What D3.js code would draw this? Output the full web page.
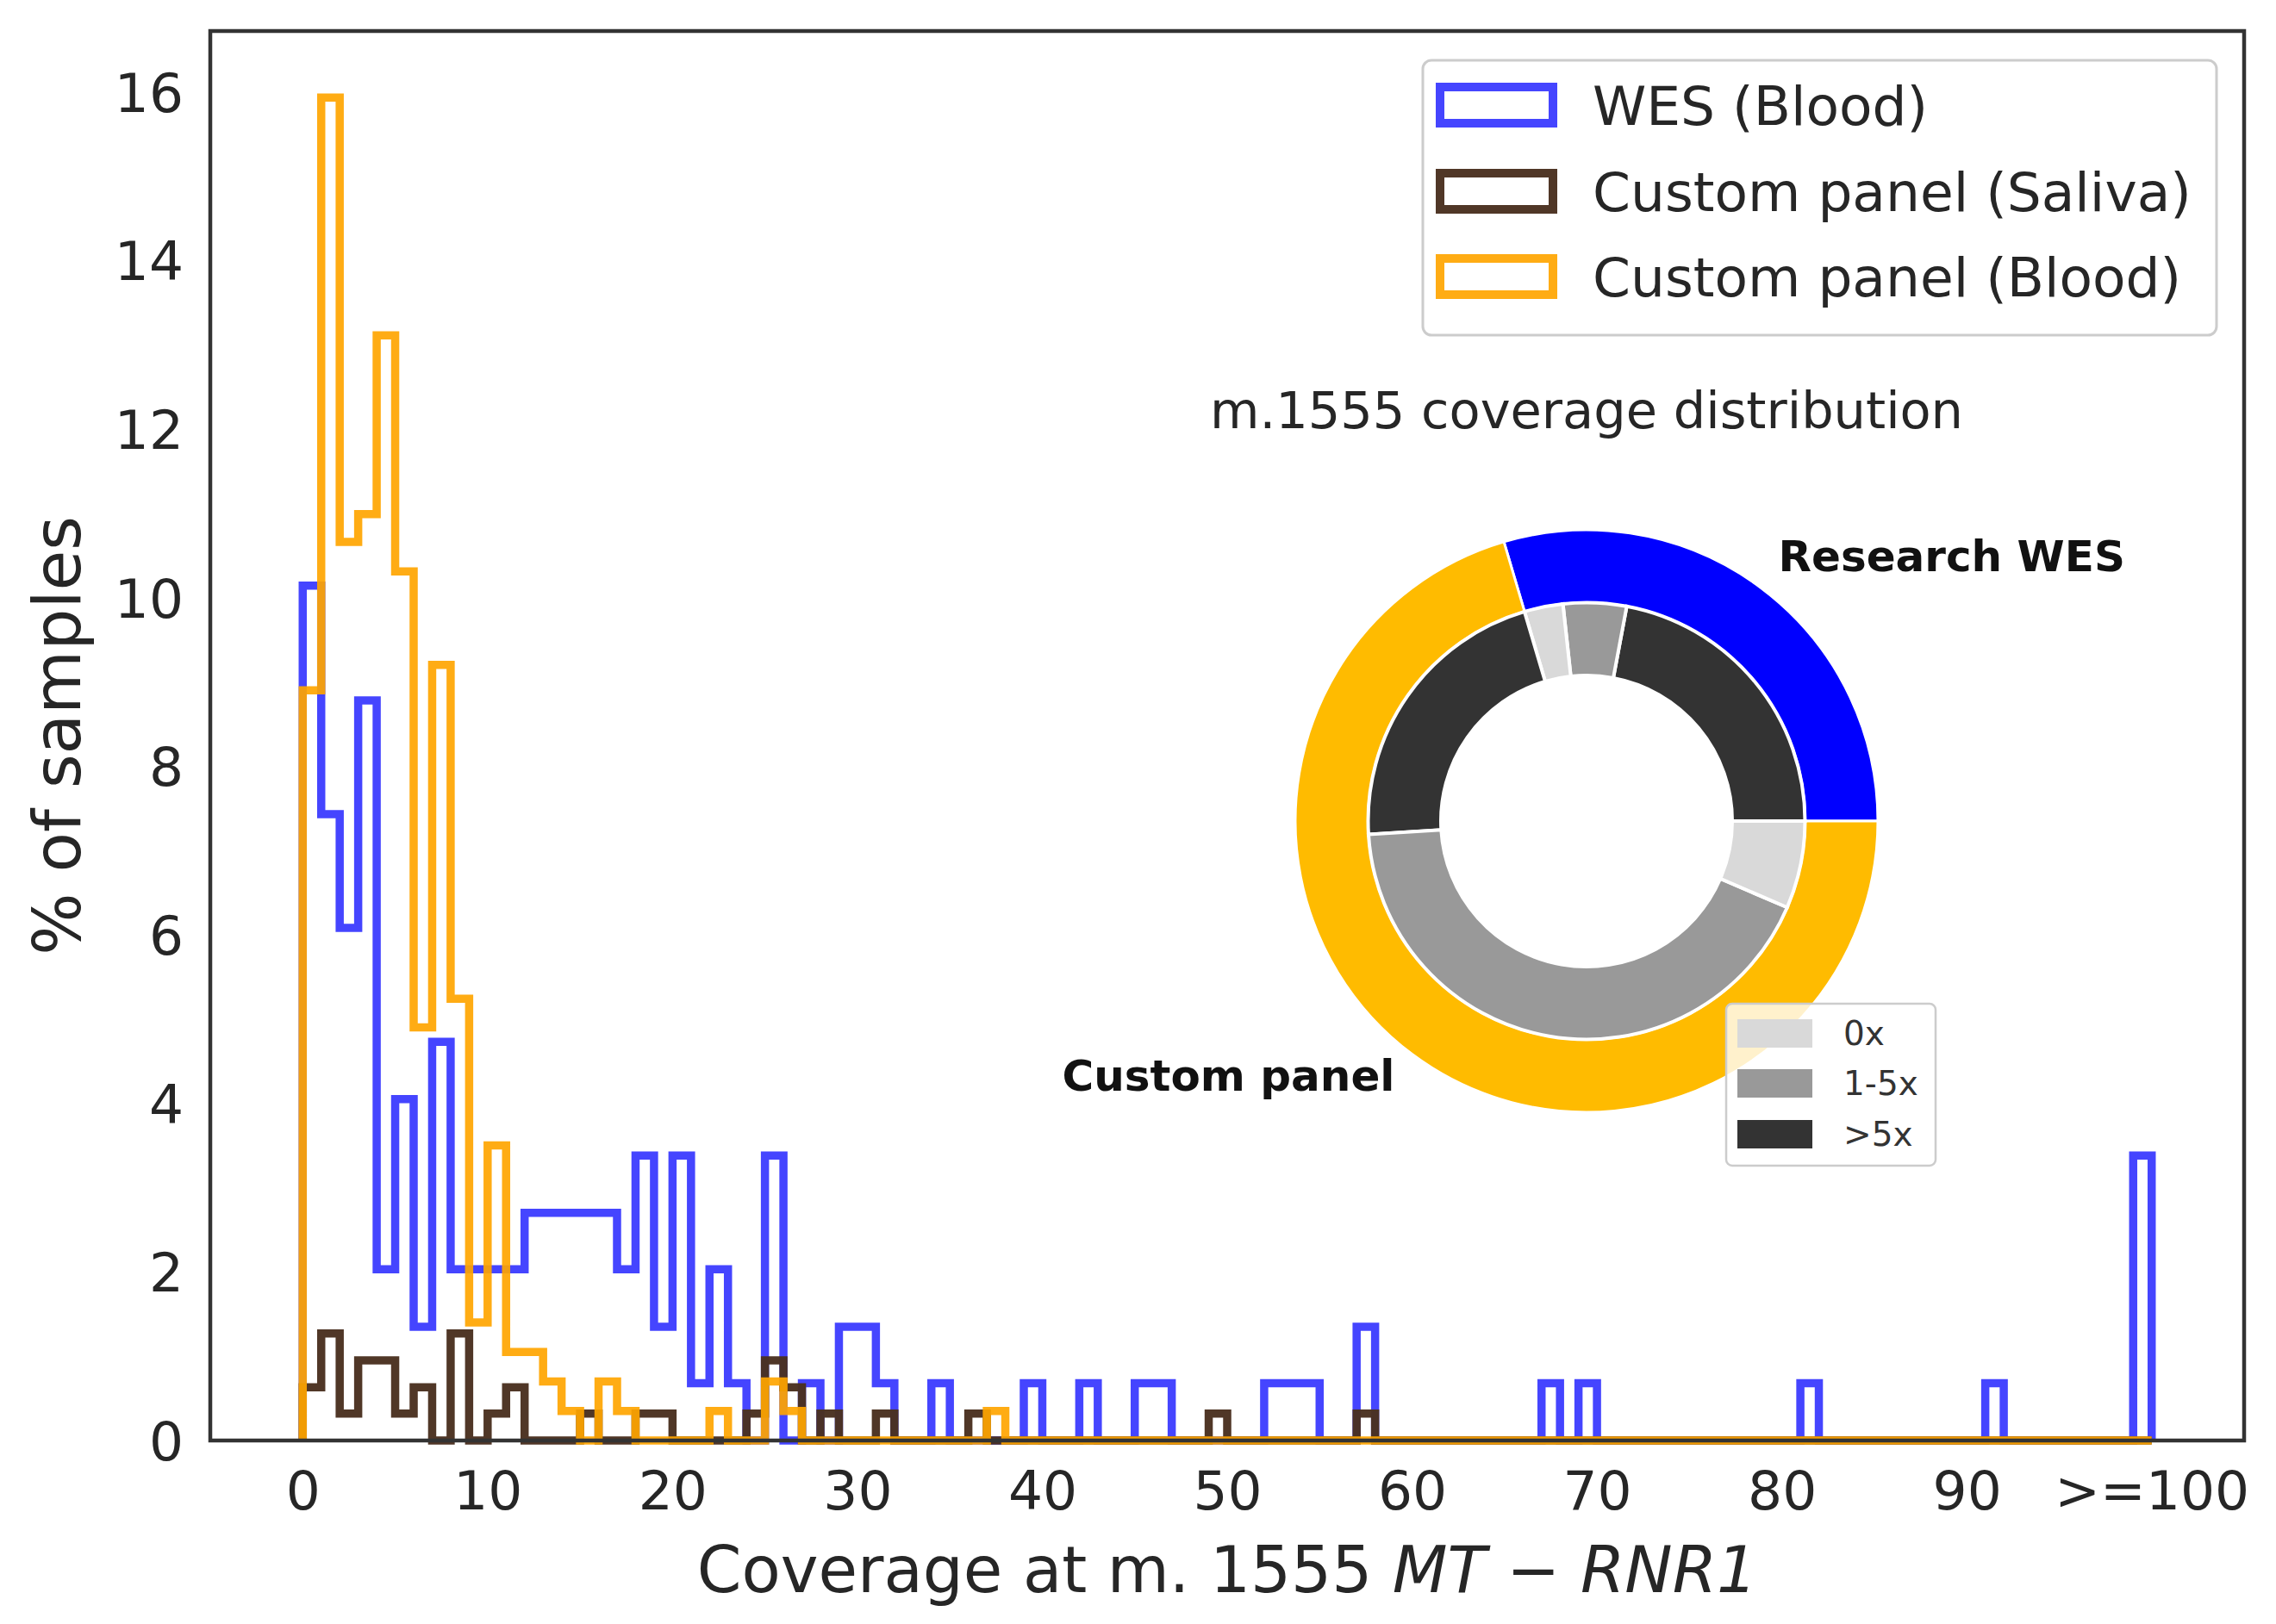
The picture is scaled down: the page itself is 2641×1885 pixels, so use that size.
<!DOCTYPE html>
<html><head><meta charset="utf-8">
<script src="https://cdn.jsdelivr.net/npm/d3@7"></script>
<style>
body{margin:0;background:#fff}
svg{display:block}
text{font-family:"DejaVu Sans",sans-serif}
</style>
</head><body>
<svg id="chart" width="2641" height="1885"></svg>
<script>
// ---------- data ----------
const binEdges = d3.range(0, 101);          // 100 bins of width 1 (last bin holds >=100)
const xTickValues = [0,10,20,30,40,50,60,70,80,90,100];
const xTickLabels = ["0","10","20","30","40","50","60","70","80","90",">=100"];
const yTickValues = [0,2,4,6,8,10,12,14,16];
const seriesNames = ["WES (Blood)","Custom panel (Saliva)","Custom panel (Blood)"];

const wesBlood = [
 10.14,7.43,6.08,8.78,2.03,4.05,1.35,4.73,2.03,2.03,
 2.03,2.03,2.70,2.70,2.70,2.70,2.70,2.03,3.38,1.35,
 3.38,0.68,2.03,0.68,0,3.38,0,0.68,0,1.35,
 1.35,0.68,0,0,0.68,0,0,0,0,0.68,
 0,0,0.68,0,0,0.68,0.68,0,0,0,
 0,0,0.68,0.68,0.68,0,0,1.35,0,0,
 0,0,0,0,0,0,0,0.68,0,0.68,
 0,0,0,0,0,0,0,0,0,0,
 0,0.68,0,0,0,0,0,0,0,0,
 0,0.68,0,0,0,0,0,0,0,3.38];
const panelSaliva = [
 0.63,1.27,0.32,0.95,0.95,0.32,0.63,0,1.27,0,
 0.32,0.63,0,0,0,0.32,0,0,0.32,0.32,
 0,0,0,0,0.32,0.95,0.63,0,0.32,0,
 0,0.32,0,0,0,0,0.32,0,0,0,
 0,0,0,0,0,0,0,0,0,0.32,
 0,0,0,0,0,0,0,0.32,0,0,
 0,0,0,0,0,0,0,0,0,0,
 0,0,0,0,0,0,0,0,0,0,
 0,0,0,0,0,0,0,0,0,0,
 0,0,0,0,0,0,0,0,0,0];
const panelBlood = [
 8.90,15.93,10.66,10.99,13.11,10.31,4.90,9.20,5.24,1.40,
 3.50,1.05,1.05,0.70,0.35,0,0.70,0.35,0,0,
 0,0,0.35,0,0,0.70,0.35,0,0,0,
 0,0,0,0,0,0,0,0.35,0,0,
 0,0,0,0,0,0,0,0,0,0,
 0,0,0,0,0,0,0,0,0,0,
 0,0,0,0,0,0,0,0,0,0,
 0,0,0,0,0,0,0,0,0,0,
 0,0,0,0,0,0,0,0,0,0,
 0,0,0,0,0,0,0,0,0,0];

const donutTitle = "m.1555 coverage distribution";
const donutOuterLabels = ["Research WES","Custom panel"];
const donutOuterValues = [29.58, 70.42];
const donutInnerCategories = [">5x","1-5x","0x",">5x","1-5x","0x"];
const donutInnerValues = [22.06, 4.67, 2.86, 21.39, 42.56, 6.47];
const coverageLegendLabels = ["0x","1-5x",">5x"];

// ---------- styles ----------
const seriesColors = ["#0000ff","#4a3120","#ffa500"];
const seriesOpacity = [0.73, 0.97, 0.92];
const outerColors = ["#0000ff","#ffbb00"];
const coverageColors = {"0x":"#d9d9d9","1-5x":"#999999",">5x":"#333333"};
const textColor = "#262626";

const svg = d3.select("#chart");
const plot = {left:244, right:2604, top:36, bottom:1672};

const x = d3.scaleLinear().domain([-5,105]).range([plot.left, plot.right]);
const y = d3.scaleLinear().domain([0,16.72]).range([plot.bottom, plot.top]);

// ---------- histogram step outlines ----------
const stepLine = d3.line().x(d => x(d[0])).y(d => y(d[1]));
function stepPoints(vals){
  const pts = [[binEdges[0],0]];
  vals.forEach((v,i)=>{ pts.push([binEdges[i],v]); pts.push([binEdges[i+1],v]); });
  pts.push([binEdges[binEdges.length-1],0]);
  return pts;
}
const allSeries = [wesBlood, panelSaliva, panelBlood];
const gHist = svg.append("g");
allSeries.forEach((vals,i)=>{
  gHist.append("path")
    .attr("d", stepLine(stepPoints(vals)))
    .attr("fill","none")
    .attr("stroke", seriesColors[i])
    .attr("stroke-opacity", seriesOpacity[i])
    .attr("stroke-width", 9.5)
    .attr("stroke-linejoin","miter");
});

// ---------- axes frame ----------
svg.append("rect")
  .attr("x", plot.left).attr("y", plot.top)
  .attr("width", plot.right-plot.left).attr("height", plot.bottom-plot.top)
  .attr("fill","none").attr("stroke","#333").attr("stroke-width",4.5);

// x ticks
const xAxis = d3.axisBottom(x).tickValues(xTickValues)
  .tickFormat((d,i)=>xTickLabels[i]).tickSize(0).tickPadding(0);
const gx = svg.append("g").attr("transform",`translate(0,${plot.bottom})`).call(xAxis);
gx.select(".domain").remove();
gx.selectAll("text").attr("font-size",63).attr("fill",textColor)
  .attr("font-family","DejaVu Sans").attr("dy",null).attr("y",80);

// y ticks
const yAxis = d3.axisLeft(y).tickValues(yTickValues).tickSize(0).tickPadding(0);
const gy = svg.append("g").attr("transform",`translate(213,0)`).call(yAxis);
gy.select(".domain").remove();
gy.selectAll("text").attr("font-size",63).attr("fill",textColor)
  .attr("font-family","DejaVu Sans").attr("x",0).attr("dy","0.36em");

// axis labels
svg.append("text")
  .attr("transform",`translate(66,${(plot.top+plot.bottom)/2}) rotate(-90)`)
  .attr("text-anchor","middle").attr("dominant-baseline","central")
  .attr("font-size",76).attr("fill",textColor).text("% of samples");

const xl = svg.append("text").attr("x",(plot.left+plot.right)/2).attr("y",1848)
  .attr("text-anchor","middle").attr("font-size",74).attr("fill",textColor);
xl.append("tspan").text("Coverage at m. 1555 ");
xl.append("tspan").attr("font-style","italic").text("MT");
xl.append("tspan").text(" \u2212 ");
xl.append("tspan").attr("font-style","italic").text("RNR1");

// ---------- main legend ----------
const lg = svg.append("g");
lg.append("rect").attr("x",1651).attr("y",70).attr("width",921).attr("height",319)
  .attr("rx",10).attr("fill","#fff").attr("fill-opacity",0.8)
  .attr("stroke","#cccccc").attr("stroke-width",3);
const legRows = [122, 222, 321];
seriesNames.forEach((name,i)=>{
  lg.append("rect").attr("x",1671).attr("y",legRows[i]-21).attr("width",131).attr("height",42)
    .attr("fill","none").attr("stroke",seriesColors[i]).attr("stroke-opacity",seriesOpacity[i])
    .attr("stroke-width",10);
  lg.append("text").attr("x",1848).attr("y",legRows[i]).attr("dy","0.36em")
    .attr("font-size",63).attr("fill",textColor).text(name);
});

// ---------- donut inset ----------
const cx = 1841, cy = 953, R = 338;
const pie = d3.pie().sort(null).value(d=>d)
  .startAngle(Math.PI/2).endAngle(Math.PI/2 - 2*Math.PI);
const gD = svg.append("g").attr("transform",`translate(${cx},${cy})`);
const outerArc = d3.arc().innerRadius(R*0.75).outerRadius(R);
const innerArc = d3.arc().innerRadius(R*0.5).outerRadius(R*0.75);
const outerPie = pie(donutOuterValues);
gD.selectAll("path.outer").data(outerPie).join("path").attr("class","outer")
  .attr("d", outerArc).attr("fill",(d,i)=>outerColors[i])
  .attr("stroke","#fff").attr("stroke-width",3);
gD.selectAll("path.inner").data(pie(donutInnerValues)).join("path").attr("class","inner")
  .attr("d", innerArc).attr("fill",(d,i)=>coverageColors[donutInnerCategories[i]])
  .attr("stroke","#fff").attr("stroke-width",4);
const labelDy = [-10, -3];
outerPie.forEach((d,i)=>{
  const mid = (d.startAngle+d.endAngle)/2;
  const lx = 1.1*R*Math.sin(mid), ly = -1.1*R*Math.cos(mid) + labelDy[i];
  gD.append("text").attr("x",lx).attr("y",ly).attr("dy","0.36em")
    .attr("text-anchor", lx>0 ? "start" : "end")
    .attr("font-size",50).attr("font-weight","bold").attr("fill","#111")
    .text(donutOuterLabels[i]);
});
svg.append("text").attr("x",cx).attr("y",476).attr("dy","0.36em")
  .attr("text-anchor","middle").attr("font-size",59).attr("fill",textColor).text(donutTitle);

// donut legend
const dl = svg.append("g");
dl.append("rect").attr("x",2003).attr("y",1165).attr("width",243).attr("height",188)
  .attr("rx",7).attr("fill","#fff").attr("fill-opacity",0.8)
  .attr("stroke","#cccccc").attr("stroke-width",2.5);
const dRows = [1199, 1257, 1316];
coverageLegendLabels.forEach((lab,i)=>{
  dl.append("rect").attr("x",2016).attr("y",dRows[i]-16).attr("width",87).attr("height",33)
    .attr("fill",coverageColors[lab]);
  dl.append("text").attr("x",2139).attr("y",dRows[i]).attr("dy","0.36em")
    .attr("font-size",39).attr("fill","#333").text(lab);
});
</script>
</body></html>
